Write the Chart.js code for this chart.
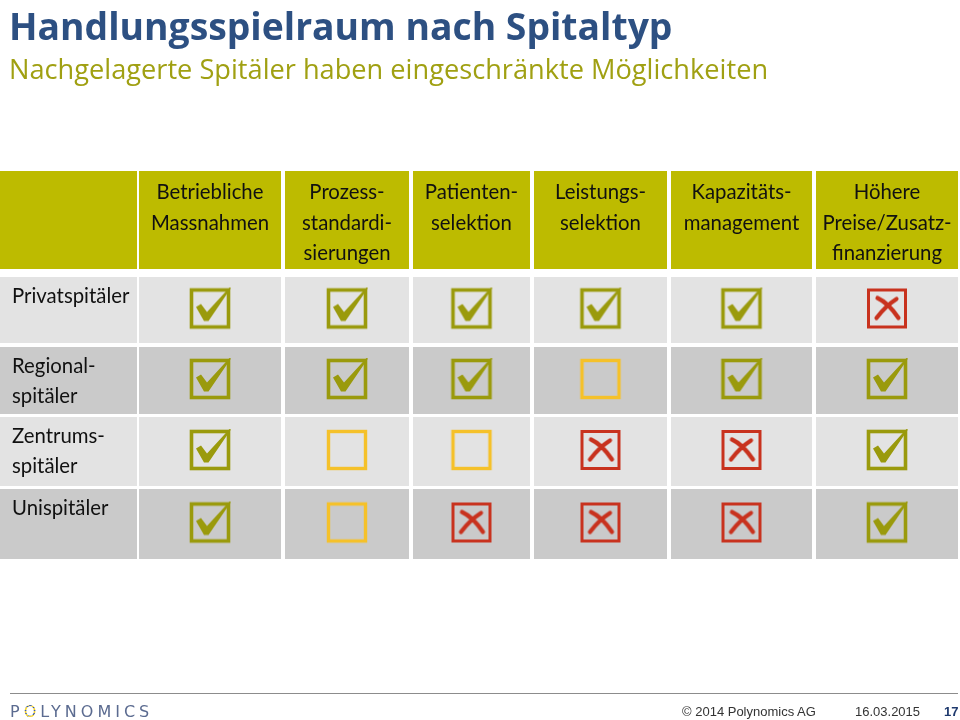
<!DOCTYPE html>
<html lang="de">
<head>
<meta charset="utf-8">
<title>Handlungsspielraum nach Spitaltyp</title>
<script src="https://cdn.jsdelivr.net/npm/chart.js@4.4.1/dist/chart.umd.min.js"></script>
<style>
  html, body { margin: 0; padding: 0; background: #fff; }
  #slide { position: relative; width: 960px; height: 720px; overflow: hidden; }
  #chart { position: absolute; left: 0; top: 0; }
  .txt { position: absolute; white-space: nowrap; line-height: 1; }
  .title { left: 9px; top: 0px; font: 700 37.3px 'Open Sans', sans-serif; color: #2d5082; }
  .subtitle { left: 9px; top: 50px; font: 400 27.2px 'Open Sans', sans-serif; color: #a0a012; }
  .rule { position: absolute; left: 10px; top: 693px; width: 948px; height: 1px; background: #8c8c8c; }
  .logo { left: 10px; top: 702px; font: 400 16px 'DejaVu Sans', sans-serif; color: #5b6b90; letter-spacing: 4px; }
  .logo .o {
    background: repeating-linear-gradient(160deg, #f2d22a 0 2px, #3d5a9a 2px 3px);
    -webkit-background-clip: text; background-clip: text; color: transparent;
  }
  .foot { top: 704px; font: 400 13px 'Liberation Sans', sans-serif; color: #333; }
</style>
</head>
<body>
<div id="slide">
  <canvas id="chart" width="960" height="720"></canvas>
  <div class="txt title">Handlungsspielraum nach Spitaltyp</div>
  <div class="txt subtitle">Nachgelagerte Spitäler haben eingeschränkte Möglichkeiten</div>
  <div class="rule"></div>
  <div class="txt logo">P<span class="o">O</span>LYNOMICS</div>
  <div class="txt foot" style="left:682px">© 2014 Polynomics AG</div>
  <div class="txt foot" style="left:855px">16.03.2015</div>
  <div class="txt foot" style="left:944px; font-weight:700; color:#1f3a6e">17</div>
</div>
<script>
// column headers (measures) and row labels (hospital types)
const measures = [
  ['Betriebliche', 'Massnahmen'],
  ['Prozess-', 'standardi-', 'sierungen'],
  ['Patienten-', 'selektion'],
  ['Leistungs-', 'selektion'],
  ['Kapazitäts-', 'management'],
  ['Höhere', 'Preise/Zusatz-', 'finanzierung']
];
const hospitalTypes = [
  ['Privatspitäler'],
  ['Regional-', 'spitäler'],
  ['Zentrums-', 'spitäler'],
  ['Unispitäler']
];

// ja = Handlungsspielraum, offen = eingeschränkt, nein = kein Spielraum
const privatspitaeler   = ['ja', 'ja',    'ja',    'ja',    'ja',   'nein'];
const regionalspitaeler = ['ja', 'ja',    'ja',    'offen', 'ja',   'ja'];
const zentrumsspitaeler = ['ja', 'offen', 'offen', 'nein',  'nein', 'ja'];
const unispitaeler      = ['ja', 'offen', 'nein',  'nein',  'nein', 'ja'];
const ratings = [privatspitaeler, regionalspitaeler, zentrumsspitaeler, unispitaeler];

// layout of the grid (in canvas units)
const colEdges = [[0, 137], [139, 281], [285, 409], [413, 530], [534, 667], [671, 812], [816, 958]];
const headerEdge = [171, 269];
const rowEdges = [[277, 343], [347, 414], [417, 486], [489, 559]];

const OLIVE = '#bdbb00';
const CHECK = '#9a9a0c';
const AMBER = '#f5c12a';
const RED = '#c8321e';
const rowFill = ['#e3e3e3', '#cacaca', '#e3e3e3', '#cacaca'];
const cellFont = "22px Lato, 'Open Sans', sans-serif";

function colCenter(i) { return (colEdges[i][0] + colEdges[i][1]) / 2; }
function rowCenter(i) { return (rowEdges[i][0] + rowEdges[i][1]) / 2 - 1.5; }

// symbols used as point styles
function makeSymbol(kind) {
  const c = document.createElement('canvas');
  c.width = 60; c.height = 60;
  const g = c.getContext('2d');
  const s = 37, bx = 30 - s / 2, by = 30 - s / 2;
  if (kind === 'ja') {
    g.strokeStyle = CHECK; g.lineWidth = 3.6;
    g.strokeRect(bx, by, s, s);
    g.fillStyle = CHECK;
    g.beginPath();
    g.moveTo(bx + 4.5, by + 17);
    g.lineTo(bx + 12.5, by + 31);
    g.lineTo(bx + 17, by + 31);
    g.lineTo(bx + 39.5, by - 2);
    g.lineTo(bx + 38, by - 2.5);
    g.lineTo(bx + 15.5, by + 22);
    g.lineTo(bx + 9.5, by + 14);
    g.closePath();
    g.fill();
  } else if (kind === 'offen') {
    g.strokeStyle = AMBER; g.lineWidth = 3.4;
    g.strokeRect(bx, by, s, s);
  } else {
    g.strokeStyle = RED; g.lineWidth = 3;
    g.strokeRect(bx, by, s, s);
    g.lineWidth = 4.2; g.lineCap = 'round';
    g.beginPath();
    g.moveTo(bx + 9, by + 8);
    g.quadraticCurveTo(bx + 20, by + 13, bx + 30, by + 28);
    g.moveTo(bx + 28, by + 9);
    g.quadraticCurveTo(bx + 17, by + 16, bx + 8, by + 28);
    g.stroke();
  }
  return c;
}

function pointsFor(kind) {
  const pts = [];
  ratings.forEach((row, r) => row.forEach((v, c) => {
    if (v === kind) pts.push({ x: colCenter(c + 1), y: rowCenter(r) });
  }));
  return pts;
}

// draws text squeezed horizontally, like the narrow slide font
function narrowText(ctx, t, px, py, align, squeeze) {
  const w = ctx.measureText(t).width * squeeze;
  const left = align === 'center' ? px - w / 2 : px;
  ctx.save();
  ctx.translate(left, py);
  ctx.scale(squeeze, 1);
  ctx.textAlign = 'left';
  ctx.fillText(t, 0, 0);
  ctx.restore();
}

const tableGrid = {
  id: 'tableGrid',
  beforeDatasetsDraw(chart) {
    const ctx = chart.ctx;
    const x = chart.scales.x, y = chart.scales.y;
    const rect = (x0, x1, y0, y1, fill) => {
      const px0 = x.getPixelForValue(x0), px1 = x.getPixelForValue(x1);
      const py0 = y.getPixelForValue(y0), py1 = y.getPixelForValue(y1);
      ctx.fillStyle = fill;
      ctx.fillRect(px0, py0, px1 - px0, py1 - py0);
    };
    ctx.save();
    colEdges.forEach(ce => rect(ce[0], ce[1], headerEdge[0], headerEdge[1], OLIVE));
    rowEdges.forEach((re, r) => colEdges.forEach(ce => rect(ce[0], ce[1], re[0], re[1], rowFill[r])));

    ctx.font = cellFont;
    ctx.fillStyle = '#111';
    ctx.textBaseline = 'middle';
    // squeeze so that "Massnahmen" is as wide as on the slide
    const squeeze = Math.min(1, 118 / ctx.measureText('Massnahmen').width);
    measures.forEach((lines, i) => {
      lines.forEach((t, k) => {
        narrowText(ctx, t, x.getPixelForValue(colCenter(i + 1)),
          y.getPixelForValue(headerEdge[0] + 21 + k * 30.5), 'center', squeeze);
      });
    });
    hospitalTypes.forEach((lines, r) => {
      lines.forEach((t, k) => {
        narrowText(ctx, t, x.getPixelForValue(12),
          y.getPixelForValue(rowEdges[r][0] + 19 + k * 30), 'left', squeeze);
      });
    });
    ctx.restore();
  }
};

const kinds = ['ja', 'offen', 'nein'];
new Chart(document.getElementById('chart'), {
  type: 'scatter',
  data: {
    datasets: kinds.map(k => ({
      label: k,
      data: pointsFor(k),
      pointStyle: makeSymbol(k),
      pointRadius: 20,
      pointHoverRadius: 20
    }))
  },
  options: {
    responsive: false,
    animation: false,
    layout: { padding: 0, autoPadding: false },
    plugins: { legend: { display: false }, tooltip: { enabled: false } },
    scales: {
      x: { type: 'linear', display: false, min: 0, max: 960 },
      y: { type: 'linear', display: false, min: 0, max: 720, reverse: true }
    }
  },
  plugins: [tableGrid]
});
</script>
</body>
</html>
